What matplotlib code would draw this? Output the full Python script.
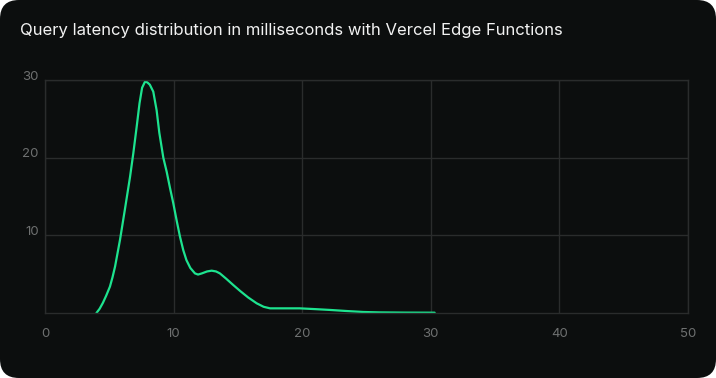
import matplotlib.pyplot as plt
import matplotlib.transforms as mtransforms
from matplotlib.patches import FancyBboxPatch

# latency (ms) vs density
latency = [4.0, 4.25, 4.5, 4.75, 5.05, 5.25, 5.45, 5.83, 6.2, 6.61, 6.87, 7.13, 7.35, 7.55, 7.78, 7.95,
           8.15, 8.42, 8.68, 8.89, 9.2, 9.46, 9.72, 9.98, 10.25, 10.5, 10.75, 11.0, 11.3, 11.66, 11.9,
           12.2, 12.6, 12.96, 13.3, 13.6, 14.1, 14.64, 15.2, 15.8, 16.46, 17.0, 17.5, 18.5,
           19.8, 21.0, 22.2, 23.5, 24.75, 26.0, 28.0, 30.3]
density = [0.0, 0.55, 1.3, 2.2, 3.4, 4.6, 6.0, 9.4, 13.2, 17.5, 20.6, 24.0, 27.0, 29.0, 29.8, 29.7,
           29.4, 28.5, 26.1, 23.2, 20.0, 18.2, 16.1, 14.1, 11.8, 9.8, 8.1, 6.8, 5.8, 5.1, 4.95,
           5.1, 5.35, 5.45, 5.35, 5.1, 4.4, 3.6, 2.8, 2.0, 1.25, 0.8, 0.6, 0.6,
           0.6, 0.5, 0.39, 0.25, 0.13, 0.08, 0.05, 0.04]

x_ticks = [0, 10, 20, 30, 40, 50]
y_ticks = [10, 20, 30]

bg = '#0c0e0e'
grid_c = '#2a2c2c'
text_c = '#6e7070'

fig = plt.figure(figsize=(7.16, 3.78), dpi=100, facecolor='white')
card = FancyBboxPatch((0, 0), 1, 1, boxstyle='round,pad=0,rounding_size=%f' % (10/378),
                      transform=fig.transFigure, facecolor=bg, edgecolor='none',
                      mutation_aspect=716/378, zorder=-10)
fig.patches.append(card)

fig.text(20/716, 1 - 31/378, 'Query latency distribution in milliseconds with Vercel Edge Functions',
         color='#f2f2f2', fontsize=12.0, family='Inter', va='center', ha='left')

ax = fig.add_axes([45/716, 1 - 313/378, (688 - 45)/716, (313 - 80)/378])
ax.set_facecolor(bg)
ax.plot(latency, density, color='#1de38f', linewidth=1.6, solid_capstyle='round')
ax.set_xlim(0, 50)
ax.set_ylim(0, 30)
ax.set_xticks(x_ticks)
ax.set_yticks(y_ticks)
ax.grid(True, color=grid_c, linewidth=1.0)
for s in ax.spines.values():
    s.set_color(grid_c)
    s.set_linewidth(1.0)
ax.tick_params(length=0, colors=text_c, labelsize=9.5)
ax.tick_params(axis='x', pad=11)
ax.tick_params(axis='y', pad=4.5)
shift = mtransforms.ScaledTranslation(0, 3.5/100, fig.dpi_scale_trans)
for lab in ax.get_yticklabels():
    lab.set_verticalalignment('center')
    lab.set_transform(lab.get_transform() + shift)
for lab in ax.get_xticklabels() + ax.get_yticklabels():
    lab.set_family('Inter')

fig.savefig('out.png', dpi=100, facecolor='white')
